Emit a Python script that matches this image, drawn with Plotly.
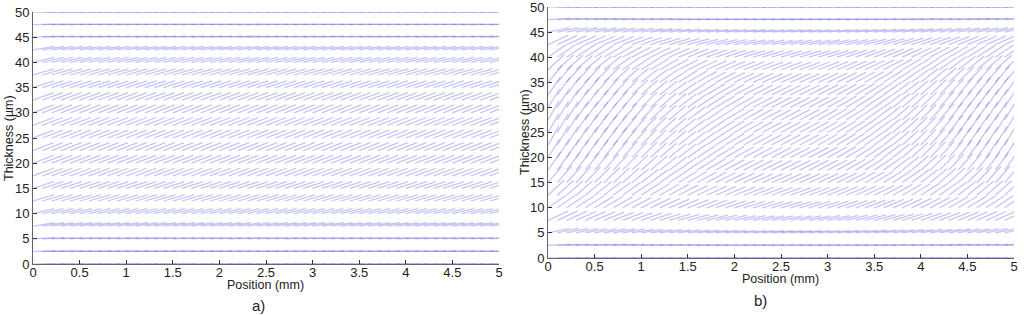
import plotly.graph_objects as go
import numpy as np

# grid of the director field
x_cols = [0.0, 0.1, 0.2, 0.3, 0.4, 0.5, 0.6, 0.7, 0.8, 0.9,
          1.0, 1.1, 1.2, 1.3, 1.4, 1.5, 1.6, 1.7, 1.8, 1.9,
          2.0, 2.1, 2.2, 2.3, 2.4, 2.5, 2.6, 2.7, 2.8, 2.9,
          3.0, 3.1, 3.2, 3.3, 3.4, 3.5, 3.6, 3.7, 3.8, 3.9,
          4.0, 4.1, 4.2, 4.3, 4.4, 4.5, 4.6, 4.7, 4.8, 4.9]
z_rows = [0, 2.5, 5, 7.5, 10, 12.5, 15, 17.5, 20, 22.5, 25,
          27.5, 30, 32.5, 35, 37.5, 40, 42.5, 45, 47.5, 50]

# a) tilt (deg) per row, uniform along x
tilt_a = [0, 1, 3, 9, 13, 16, 18, 20, 21, 21, 21,
          21, 21, 20, 18, 16, 13, 9, 3, 1, 0]

# b) tilt (deg) per row at the edges, scaled by a factor along x
tilt_b = [0, 3, 12, 25, 35, 43, 50, 55, 58, 60, 60,
          60, 58, 55, 50, 43, 35, 25, 12, 3, 0]
col_factor_b = [1.00, 0.99, 0.97, 0.95, 0.93, 0.90, 0.88, 0.85, 0.82, 0.79,
                0.76, 0.73, 0.70, 0.67, 0.64, 0.61, 0.58, 0.56, 0.54, 0.52,
                0.50, 0.49, 0.48, 0.47, 0.47, 0.47, 0.47, 0.47, 0.48, 0.49,
                0.50, 0.52, 0.54, 0.56, 0.58, 0.61, 0.64, 0.67, 0.70, 0.73,
                0.76, 0.79, 0.82, 0.85, 0.88, 0.90, 0.93, 0.95, 0.97, 0.99]

x_ticks = [0, 0.5, 1, 1.5, 2, 2.5, 3, 3.5, 4, 4.5, 5]
x_tick_text = ["0", "0.5", "1", "1.5", "2", "2.5", "3", "3.5", "4", "4.5", "5"]
y_ticks = [0, 5, 10, 15, 20, 25, 30, 35, 40, 45, 50]

SEG_PX = 22          # visual length of a director segment
PX_PER_MM = 93.2
PX_PER_UM = 5.03
COLOR = "rgba(95,95,228,0.36)"
FONT = "Liberation Sans, Arial, sans-serif"

fig = go.Figure()


def add_field(angle_fn, xref, yref):
    for j, xc in enumerate(x_cols):
        xs, ys = [], []
        for i, zc in enumerate(z_rows):
            th = np.radians(angle_fn(i, j))
            xs += [xc, xc + SEG_PX * np.cos(th) / PX_PER_MM, None]
            ys += [zc, zc + SEG_PX * np.sin(th) / PX_PER_UM, None]
        fig.add_trace(go.Scatter(
            x=xs, y=ys, mode="lines", xaxis=xref, yaxis=yref,
            line=dict(color=COLOR, width=1.3),
            hoverinfo="skip", showlegend=False
        ))


add_field(lambda i, j: tilt_a[i], "x", "y")
add_field(lambda i, j: tilt_b[i] * col_factor_b[j], "x2", "y2")

W, H = 1024, 315
ax_common = dict(
    showgrid=False, zeroline=False, showline=True, linecolor="#666", linewidth=1,
    ticks="inside", ticklen=4, tickcolor="#333", automargin=False,
    ticklabeloverflow="allow",
    tickfont=dict(family=FONT, size=13, color="#222"), mirror=False
)

fig.update_layout(
    width=W, height=H,
    margin=dict(l=0, r=0, t=0, b=0, autoexpand=False),
    plot_bgcolor="white", paper_bgcolor="white",
    xaxis=dict(domain=[33 / W, 499 / W], range=[0, 5], anchor="y",
               tickvals=x_ticks, ticktext=x_tick_text, ticklabelstandoff=-4,
               **ax_common),
    yaxis=dict(domain=[(H - 264) / H, (H - 12) / H], range=[0, 50], anchor="x",
               tickvals=y_ticks, **ax_common),
    xaxis2=dict(domain=[548 / W, 1014 / W], range=[0, 5], anchor="y2",
                tickvals=x_ticks, ticktext=x_tick_text, ticklabelstandoff=-4,
                **ax_common),
    yaxis2=dict(domain=[(H - 258) / H, (H - 7) / H], range=[0, 50], anchor="x2",
                tickvals=y_ticks, **ax_common),
)

labels = [
    dict(text="Position (mm)", x=265 / W, y=(H - 285) / H, textangle=0, size=12.5),
    dict(text="Position (mm)", x=780 / W, y=(H - 279) / H, textangle=0, size=12.5),
    dict(text="Thickness (\u00b5m)", x=9 / W, y=(H - 138) / H, textangle=-90, size=12.5),
    dict(text="Thickness (\u00b5m)", x=525 / W, y=(H - 132) / H, textangle=-90, size=12.5),
    dict(text="a)", x=258 / W, y=(H - 305) / H, textangle=0, size=15),
    dict(text="b)", x=760 / W, y=(H - 300) / H, textangle=0, size=15),
]
for lb in labels:
    fig.add_annotation(
        text=lb["text"], x=lb["x"], y=lb["y"], xref="paper", yref="paper",
        xanchor="center", yanchor="middle", textangle=lb["textangle"],
        showarrow=False, font=dict(family=FONT, size=lb["size"], color="#222")
    )

fig.write_html("out.html", config={"displayModeBar": False},
               post_script="document.body.style.margin='0';")
